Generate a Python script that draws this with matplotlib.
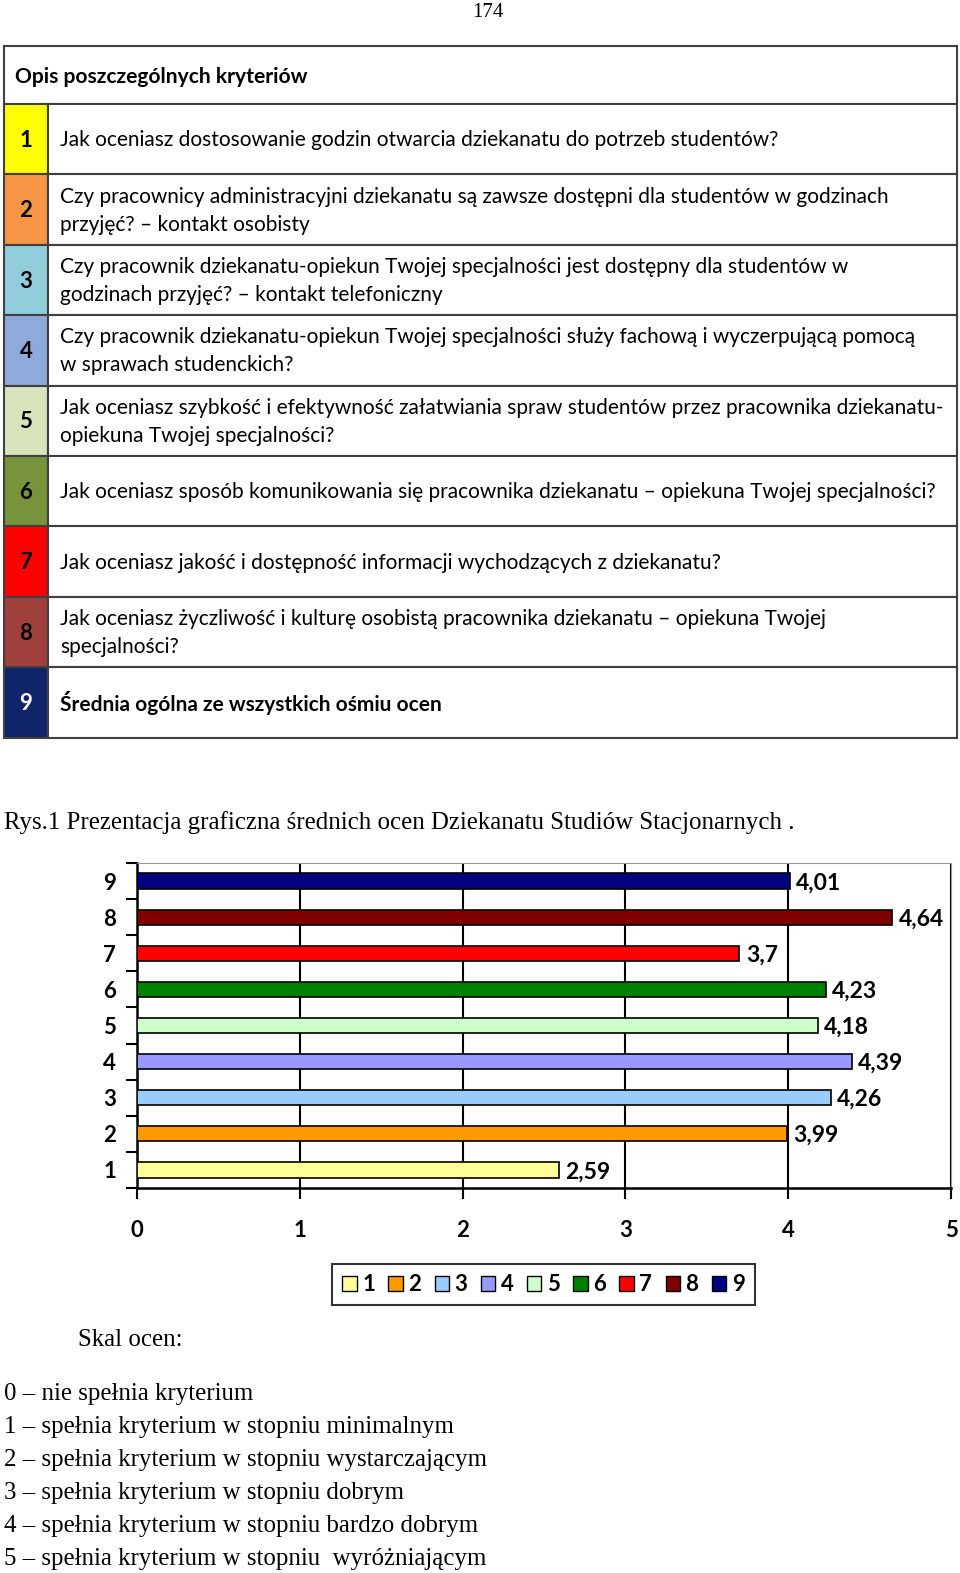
import matplotlib
matplotlib.use("Agg")
import matplotlib.pyplot as plt
from matplotlib.patches import Rectangle, Patch

# chart data
categories = ["1", "2", "3", "4", "5", "6", "7", "8", "9"]
values = [2.59, 3.99, 4.26, 4.39, 4.18, 4.23, 3.7, 4.64, 4.01]
bar_colors = ["#FFFF99", "#FF9900", "#99CCFF", "#9999FF", "#CCFFCC",
              "#008000", "#FF0000", "#800000", "#000080"]
x_ticks = [0, 1, 2, 3, 4, 5]

# table of criteria
table_colors = ["#FFFF00", "#F79646", "#92CDDC", "#8EA9DB", "#D7E4BC",
                "#77933C", "#FF0000", "#A0403C", "#0F2469"]
criteria = [
    ["Jak oceniasz dostosowanie godzin otwarcia dziekanatu do potrzeb studentów?"],
    ["Czy pracownicy administracyjni dziekanatu są zawsze dostępni dla studentów w godzinach",
     "przyjęć? – kontakt osobisty"],
    ["Czy pracownik dziekanatu-opiekun Twojej specjalności jest dostępny dla studentów w",
     "godzinach przyjęć? – kontakt telefoniczny"],
    ["Czy pracownik dziekanatu-opiekun Twojej specjalności służy fachową i wyczerpującą pomocą",
     "w sprawach studenckich?"],
    ["Jak oceniasz szybkość i efektywność załatwiania spraw studentów przez pracownika dziekanatu-",
     "opiekuna Twojej specjalności?"],
    ["Jak oceniasz sposób komunikowania się pracownika dziekanatu – opiekuna Twojej specjalności?"],
    ["Jak oceniasz jakość i dostępność informacji wychodzących z dziekanatu?"],
    ["Jak oceniasz życzliwość i kulturę osobistą pracownika dziekanatu – opiekuna Twojej",
     "specjalności?"],
    ["Średnia ogólna ze wszystkich ośmiu ocen"],
]
scale = [
    "0 – nie spełnia kryterium",
    "1 – spełnia kryterium w stopniu minimalnym",
    "2 – spełnia kryterium w stopniu wystarczającym",
    "3 – spełnia kryterium w stopniu dobrym",
    "4 – spełnia kryterium w stopniu bardzo dobrym",
    "5 – spełnia kryterium w stopniu  wyróżniającym",
]

W, H = 960, 1573
fig = plt.figure(figsize=(W / 100, H / 100), dpi=100)
page = fig.add_axes([0, 0, 1, 1])
page.set_xlim(0, W)
page.set_ylim(H, 0)
page.axis("off")

sans = "Lato"
serif = "Liberation Serif"
lc = "#404040"

page.text(488, 17, "174", ha="center", va="baseline", fontsize=15, family=serif)

# table
left, right, numr = 4, 957, 48
top, head_bot = 46, 104
row_h = 70.4
page.add_patch(Rectangle((left, top), right - left, head_bot - top, fill=False, ec=lc, lw=1.5))
page.text(15, 77, "Opis poszczególnych kryteriów", fontsize=15.1, fontweight="bold",
          family=sans, va="center")
for i, lines in enumerate(criteria):
    y0 = head_bot + i * row_h
    page.add_patch(Rectangle((left, y0), numr - left, row_h, fc=table_colors[i], ec=lc, lw=1.5))
    page.add_patch(Rectangle((numr, y0), right - numr, row_h, fc="white", ec=lc, lw=1.5))
    page.text(26, y0 + row_h / 2 + 1, str(i + 1), ha="center", va="center", fontsize=16,
              fontweight="bold", family=sans, color="white" if i == 8 else "black")
    n = len(lines)
    for j, line in enumerate(lines):
        yy = y0 + row_h / 2 + 1 + (j - (n - 1) / 2) * 28
        page.text(60, yy, line, va="center", fontsize=15.0, family=sans,
                  fontweight="bold" if i == 8 else "normal")

page.text(4, 823, "Rys.1 Prezentacja graficzna średnich ocen Dziekanatu Studiów Stacjonarnych .",
          va="center", fontsize=17.9, family=serif)

# bar chart
ax = fig.add_axes([137 / W, 1 - 1188 / H, (951 - 137) / W, (1188 - 863) / H])
ypos = list(range(1, len(categories) + 1))
ax.barh(ypos, values, height=0.42, color=bar_colors, edgecolor="black", linewidth=1.2, zorder=3)
for y, v in zip(ypos, values):
    ax.text(v + 0.04, y - 0.05, str(v).replace(".", ","), va="center", fontsize=16.5,
            fontweight="bold", family=sans)
ax.set_xlim(0, 5)
ax.set_ylim(0.5, 9.5)
ax.set_xticks(x_ticks)
ax.set_xticklabels([str(t) for t in x_ticks], fontsize=16, fontweight="bold", family=sans)
ax.tick_params(axis="x", length=8, width=1.5, pad=15)
ax.set_yticks([y + 0.5 for y in range(0, 10)], minor=False)
ax.set_yticklabels([])
ax.set_yticks(ypos, minor=True)
ax.set_yticklabels(categories, minor=True, fontsize=16, fontweight="bold", family=sans)
ax.tick_params(axis="y", which="major", length=8, width=1.5)
ax.tick_params(axis="y", which="minor", length=0, pad=15)
ax.grid(axis="x", color="black", linewidth=1.5, zorder=0)
ax.spines["left"].set_linewidth(1.8)
ax.spines["bottom"].set_linewidth(1.8)
ax.spines["top"].set_color("#999999")
ax.spines["right"].set_color("#999999")

handles = [Patch(facecolor=c, edgecolor="black", label=l) for c, l in zip(bar_colors, categories)]
leg = fig.legend(handles=handles, ncol=9, loc="center", bbox_to_anchor=(543.5 / W, 1 - 1284.5 / H),
                 prop={"family": sans, "weight": "bold", "size": 16}, handlelength=0.65,
                 handleheight=0.65, handletextpad=0.25, columnspacing=0.6, fancybox=False,
                 borderpad=0.45)
leg.get_frame().set_edgecolor("black")
leg.get_frame().set_linewidth(1.5)

page.text(78, 1340, "Skal ocen:", va="center", fontsize=17.9, family=serif)
for k, s in enumerate(scale):
    page.text(4, 1394 + k * 33, s, va="center", fontsize=17.9, family=serif)

fig.savefig("out.png", dpi=100)
